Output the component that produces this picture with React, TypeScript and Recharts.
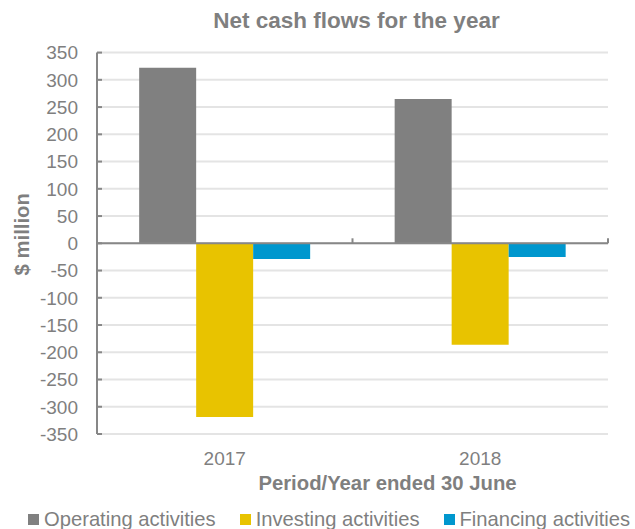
import React from 'react';
import { BarChart, Bar, XAxis, YAxis, CartesianGrid, Legend, ReferenceLine } from 'recharts';

const years = ['2017', '2018'];
const operating = [322, 265];
const investing = [-319, -186];
const financing = [-29, -25];
const yTicks = [-350, -300, -250, -200, -150, -100, -50, 0, 50, 100, 150, 200, 250, 300, 350];

const series = [
  { key: 'operating', name: 'Operating activities', color: '#808080' },
  { key: 'investing', name: 'Investing activities', color: '#E8C300' },
  { key: 'financing', name: 'Financing activities', color: '#0097CE' },
];

const data = years.map((year, i) => ({
  year,
  operating: operating[i],
  investing: investing[i],
  financing: financing[i],
}));

const FONT = '"Liberation Sans", Arial, sans-serif';
const TEXT = '#7F7F7F';
const AXIS = '#878787';

// zero line doubles as the category axis, with small ticks between categories
const ZeroAxis = (props: any) => {
  const { x1, y1, x2 } = props;
  const marks = years.map((_, i) => x1 + ((x2 - x1) * i) / years.length).concat([x2]);
  return (
    <g>
      <line x1={x1} y1={y1} x2={x2} y2={y1} stroke={AXIS} strokeWidth={2} />
      {marks.map((mx, i) => (
        <line key={i} x1={mx} y1={y1} x2={mx} y2={y1 - 5} stroke={AXIS} strokeWidth={2} />
      ))}
    </g>
  );
};

const seriesIndex = (name: string) => series.findIndex((s) => s.name === name);

const renderLegend = (props: any) => {
  const payload = [...(props.payload || [])].sort((a: any, b: any) => seriesIndex(a.value) - seriesIndex(b.value));
  return (
    <div style={{ display: 'flex', alignItems: 'center', paddingLeft: 28, height: 24, fontFamily: FONT, fontSize: 20.2, color: TEXT, lineHeight: '24px' }}>
      {payload.map((entry: any) => (
        <div key={entry.value} style={{ display: 'flex', alignItems: 'center', marginRight: 24 }}>
          <span style={{ width: 11, height: 11, background: entry.color, marginRight: 5, display: 'inline-block' }} />
          <span style={{ whiteSpace: 'nowrap' }}>{entry.value}</span>
        </div>
      ))}
    </div>
  );
};

export default function App() {
  return (
    <div style={{ position: 'absolute', left: 0, top: 0, width: 635, height: 529, background: '#fff' }}>
      <div
        style={{
          position: 'absolute',
          left: 356.5,
          top: 10,
          transform: 'translateX(-50%)',
          whiteSpace: 'nowrap',
          fontFamily: FONT,
          fontWeight: 'bold',
          fontSize: 22.5,
          lineHeight: '22.5px',
          color: TEXT,
        }}
      >
        Net cash flows for the year
      </div>
      <BarChart
        width={635}
        height={529}
        data={data}
        margin={{ top: 52.6, right: 27, bottom: 65, left: 0 }}
        barCategoryGap="16.5%"
        barGap={0}
      >
        <CartesianGrid vertical={false} stroke="#E4E4E4" strokeWidth={2} />
        <XAxis
          dataKey="year"
          height={30}
          axisLine={false}
          tickLine={false}
          tickSize={0}
          tickMargin={18}
          tick={{ fill: TEXT, fontSize: 19, fontFamily: FONT }}
          label={{
            content: (p: any) => {
              const vb = p.viewBox;
              return (
                <text x={vb.x + vb.width / 2 + 35} y={vb.y + 56} textAnchor="middle" fill={TEXT} fontFamily={FONT} fontWeight="bold" fontSize={20.3}>
                  Period/Year ended 30 June
                </text>
              );
            },
          }}
        />
        <YAxis
          width={97}
          domain={[-350, 350]}
          ticks={yTicks}
          interval={0}
          axisLine={{ stroke: AXIS, strokeWidth: 2 }}
          tickLine={{ stroke: AXIS, strokeWidth: 2 }}
          tickSize={-5}
          tickMargin={24}
          tick={{ fill: TEXT, fontSize: 19, fontFamily: FONT }}
          label={{
            content: (p: any) => {
              const vb = p.viewBox;
              const cy = vb.y + vb.height / 2 - 9;
              return (
                <text x={29} y={cy} transform={`rotate(-90, 29, ${cy})`} textAnchor="middle" fill={TEXT} fontFamily={FONT} fontWeight="bold" fontSize={20.3}>
                  $ million
                </text>
              );
            },
          }}
        />
        {series.map((s) => (
          <Bar key={s.key} dataKey={s.key} name={s.name} fill={s.color} isAnimationActive={false} />
        ))}
        <ReferenceLine y={0} shape={ZeroAxis} />
        <Legend
          layout="horizontal"
          verticalAlign="middle"
          align="center"
          content={renderLegend}
          wrapperStyle={{ top: 507, left: 0, width: 635, height: 24 }}
        />
      </BarChart>
    </div>
  );
}
